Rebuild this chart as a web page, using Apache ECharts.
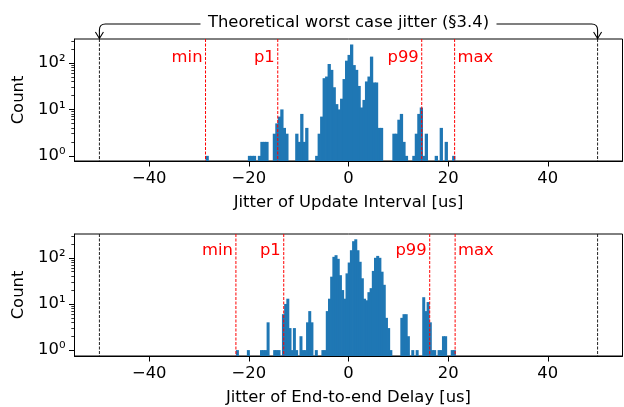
<!DOCTYPE html>
<html><head><meta charset="utf-8">
<script src="https://cdn.jsdelivr.net/npm/echarts@6/dist/echarts.min.js"></script>
<style>html,body{margin:0;padding:0;background:#fff}#c{width:624px;height:407px}</style>
</head><body><div id="c"></div>
<script>
// ---------- data ----------
const topCounts = [
  1,0,0,0,0,0,0,0,0,0,
  0,0,0,0,0,0,0,1,1,1,
  0,1,2,2,2,0,0,3,5,7,
  10,4,3,0,0,0,3,2,8,2,
  4,0,0,0,1,3,7,47,51,95,
  71,30,13,10,17,45,112,149,250,90,
  71,32,11,16,40,51,137,38,38,4,
  4,0,0,0,0,3,3,6,8,2,
  1,0,0,1,3,8,11,1,3,0,
  0,0,1,0,4,0,2,0,0,1
];
const topBinRange = [-28.7, 21.3];
const botCounts = [
  1,0,0,0,0,1,0,0,0,0,
  0,1,1,1,4,0,0,1,1,1,
  0,6,10,13,3,1,3,1,0,2,
  1,1,4,7,4,0,1,0,0,1,
  1,7,13,39,105,114,95,42,20,13,
  46,79,146,229,252,146,82,36,13,12,
  18,22,52,100,110,100,50,26,5,3,
  1,0,0,0,0,5,6,6,2,0,
  1,0,1,0,0,14,7,11,4,1,
  1,0,1,1,2,2,0,0,1,1
];
const botBinRange = [-22.6, 21.4];
const statNames = ['min', 'p1', 'p99', 'max'];
const topStats = [-28.7, -14.2, 14.7, 21.3];
const botStats = [-22.6, -13.0, 16.3, 21.4];
const worstCase = [-50, 50];
const xTicks = [-40, -20, 0, 20, 40];
const yMajorTicks = [1, 10, 100];
const yMinorTicks = [2,3,4,5,6,7,8,9,20,30,40,50,60,70,80,90,200,300];
const xNames = ['Jitter of Update Interval [us]', 'Jitter of End-to-end Delay [us]'];
const yName = 'Count';
const annotationText = 'Theoretical worst case jitter (\u00a73.4)';

// ---------- config ----------
const FONT = 'DejaVu Sans';
const FS = 16.4;
const BLUE = '#1f77b4';
const xRange = [-55, 55];
const yRanges = [[0.775, 328], [0.745, 328]];
const statLabelY = [130, 141];

function histItems(counts, range) {
  const n = counts.length, w = (range[1] - range[0]) / n, out = [];
  counts.forEach((c, i) => { if (c > 0) out.push([range[0] + i * w, range[0] + (i + 1) * w, c]); });
  return out;
}
const sup = {'0':'\u2070','1':'\u00b9','2':'\u00b2','3':'\u00b3'};
function fmtX(v) { return v < 0 ? '\u2212' + (-v) : String(v); }
function fmtY(v) { const e = Math.round(Math.log10(v)); return '10' + String(e).split('').map(d => sup[d]).join(''); }

const grids = [
  {left: 74.5, top: 39, width: 548, height: 122},
  {left: 74.5, top: 234, width: 548, height: 123}
];

const xAxes = [], yAxes = [], series = [];
[0, 1].forEach(g => {
  xAxes.push({
    type: 'value', gridIndex: g, min: xRange[0], max: xRange[1],
    name: xNames[g], nameLocation: 'middle', nameGap: 34,
    nameTextStyle: {fontFamily: FONT, fontSize: FS, color: '#000'},
    axisLine: {show: true, onZero: false, lineStyle: {color: '#000', width: 1}},
    axisTick: {show: true, length: 5.5, customValues: xTicks, lineStyle: {color: '#000'}},
    axisLabel: {customValues: xTicks, formatter: fmtX, margin: 9.5, fontFamily: FONT, fontSize: FS, color: '#000'},
    splitLine: {show: false}
  });
  yAxes.push({
    type: 'log', logBase: 10, gridIndex: g, min: yRanges[g][0], max: yRanges[g][1], position: 'left',
    name: yName, nameLocation: 'middle', nameGap: 46, nameRotate: 90,
    nameTextStyle: {fontFamily: FONT, fontSize: FS, color: '#000'},
    axisLine: {show: true, onZero: false, lineStyle: {color: '#000', width: 1}},
    axisTick: {show: true, length: 5.5, customValues: yMajorTicks, lineStyle: {color: '#000'}},
    axisLabel: {customValues: yMajorTicks, formatter: fmtY, margin: 9, fontFamily: FONT, fontSize: FS, color: '#000'},
    splitLine: {show: false}, minorTick: {show: false}
  });
  yAxes.push({
    type: 'log', logBase: 10, gridIndex: g, min: yRanges[g][0], max: yRanges[g][1], position: 'left',
    axisLine: {show: false, onZero: false},
    axisTick: {show: true, length: 3.2, customValues: yMinorTicks, lineStyle: {color: '#000', width: 0.8}},
    axisLabel: {show: false}, splitLine: {show: false}
  });
});

function histSeries(g, counts, range) {
  const yMin = yRanges[g][0];
  return {
    type: 'custom', xAxisIndex: g, yAxisIndex: g * 2, clip: true,
    data: histItems(counts, range),
    encode: {x: [0, 1], y: 2},
    renderItem: (params, api) => {
      const a = api.coord([api.value(0), api.value(2)]);
      const b = api.coord([api.value(1), yMin]);
      return {type: 'rect', shape: {x: a[0], y: a[1], width: b[0] - a[0] + 0.8, height: b[1] - a[1]},
        style: {fill: BLUE}};
    },
    silent: true, animation: false
  };
}
function vlineSeries(g, values, color, withLabels) {
  const yr = yRanges[g];
  return {
    type: 'custom', xAxisIndex: g, yAxisIndex: g * 2, clip: false,
    data: values.map(v => [v]),
    encode: {x: 0},
    renderItem: (params, api) => {
      const v = api.value(0);
      const t = api.coord([v, yr[1]]), b = api.coord([v, yr[0]]);
      const children = [{type: 'line', shape: {x1: t[0], y1: t[1], x2: b[0], y2: b[1]},
        style: {stroke: color, lineWidth: 1, lineDash: [3, 1.5]}}];
      if (withLabels) {
        const name = statNames[params.dataIndex];
        const p = api.coord([v, statLabelY[g]]);
        const right = name !== 'max';
        children.push({type: 'text', x: p[0] + (right ? -3 : 3), y: p[1],
          style: {text: name, fill: 'red', font: FS + 'px "' + FONT + '"',
            align: right ? 'right' : 'left', verticalAlign: 'middle'}});
      }
      return {type: 'group', children};
    },
    silent: true, animation: false
  };
}
series.push(histSeries(0, topCounts, topBinRange));
series.push(histSeries(1, botCounts, botBinRange));
series.push(vlineSeries(0, worstCase, '#222', false));
series.push(vlineSeries(1, worstCase, '#222', false));
series.push(vlineSeries(0, topStats, 'red', true));
series.push(vlineSeries(1, botStats, 'red', true));

// annotation bracket with arrows
series.push({
  type: 'custom', xAxisIndex: 0, yAxisIndex: 0, clip: false,
  data: [[0]], encode: {x: 0},
  renderItem: (params, api) => {
    const ymax = yRanges[0][1];
    const c = api.coord([0, ymax]);
    const L = api.coord([worstCase[0], ymax]);
    const R = api.coord([worstCase[1], ymax]);
    const top = c[1];
    const ly = top - 15, r = 6, half = 148;
    const st = {stroke: '#000', lineWidth: 1.1, fill: null};
    const path = (d) => ({type: 'path', shape: {pathData: d}, style: st});
    return {type: 'group', children: [
      path(`M${c[0]-half},${ly} L${L[0]+r},${ly} Q${L[0]},${ly} ${L[0]},${ly+r} L${L[0]},${top-0.5}`),
      path(`M${L[0]-4},${top-7} L${L[0]},${top-0.5} L${L[0]+4},${top-7}`),
      path(`M${c[0]+half},${ly} L${R[0]-r},${ly} Q${R[0]},${ly} ${R[0]},${ly+r} L${R[0]},${top-0.5}`),
      path(`M${R[0]-4},${top-7} L${R[0]},${top-0.5} L${R[0]+4},${top-7}`),
      {type: 'text', x: c[0], y: ly - 1.5, style: {text: annotationText, fill: '#000',
        font: FS + 'px "' + FONT + '"', align: 'center', verticalAlign: 'middle'}}
    ]};
  },
  silent: true, animation: false
});

const chart = echarts.init(document.getElementById('c'), null, {renderer: 'canvas'});
chart.setOption({
  animation: false,
  backgroundColor: '#fff',
  grid: grids.map(gr => Object.assign({show: true, borderColor: '#000', borderWidth: 1, backgroundColor: 'transparent', containLabel: false}, gr)),
  xAxis: xAxes,
  yAxis: yAxes,
  series: series
});
</script></body></html>
